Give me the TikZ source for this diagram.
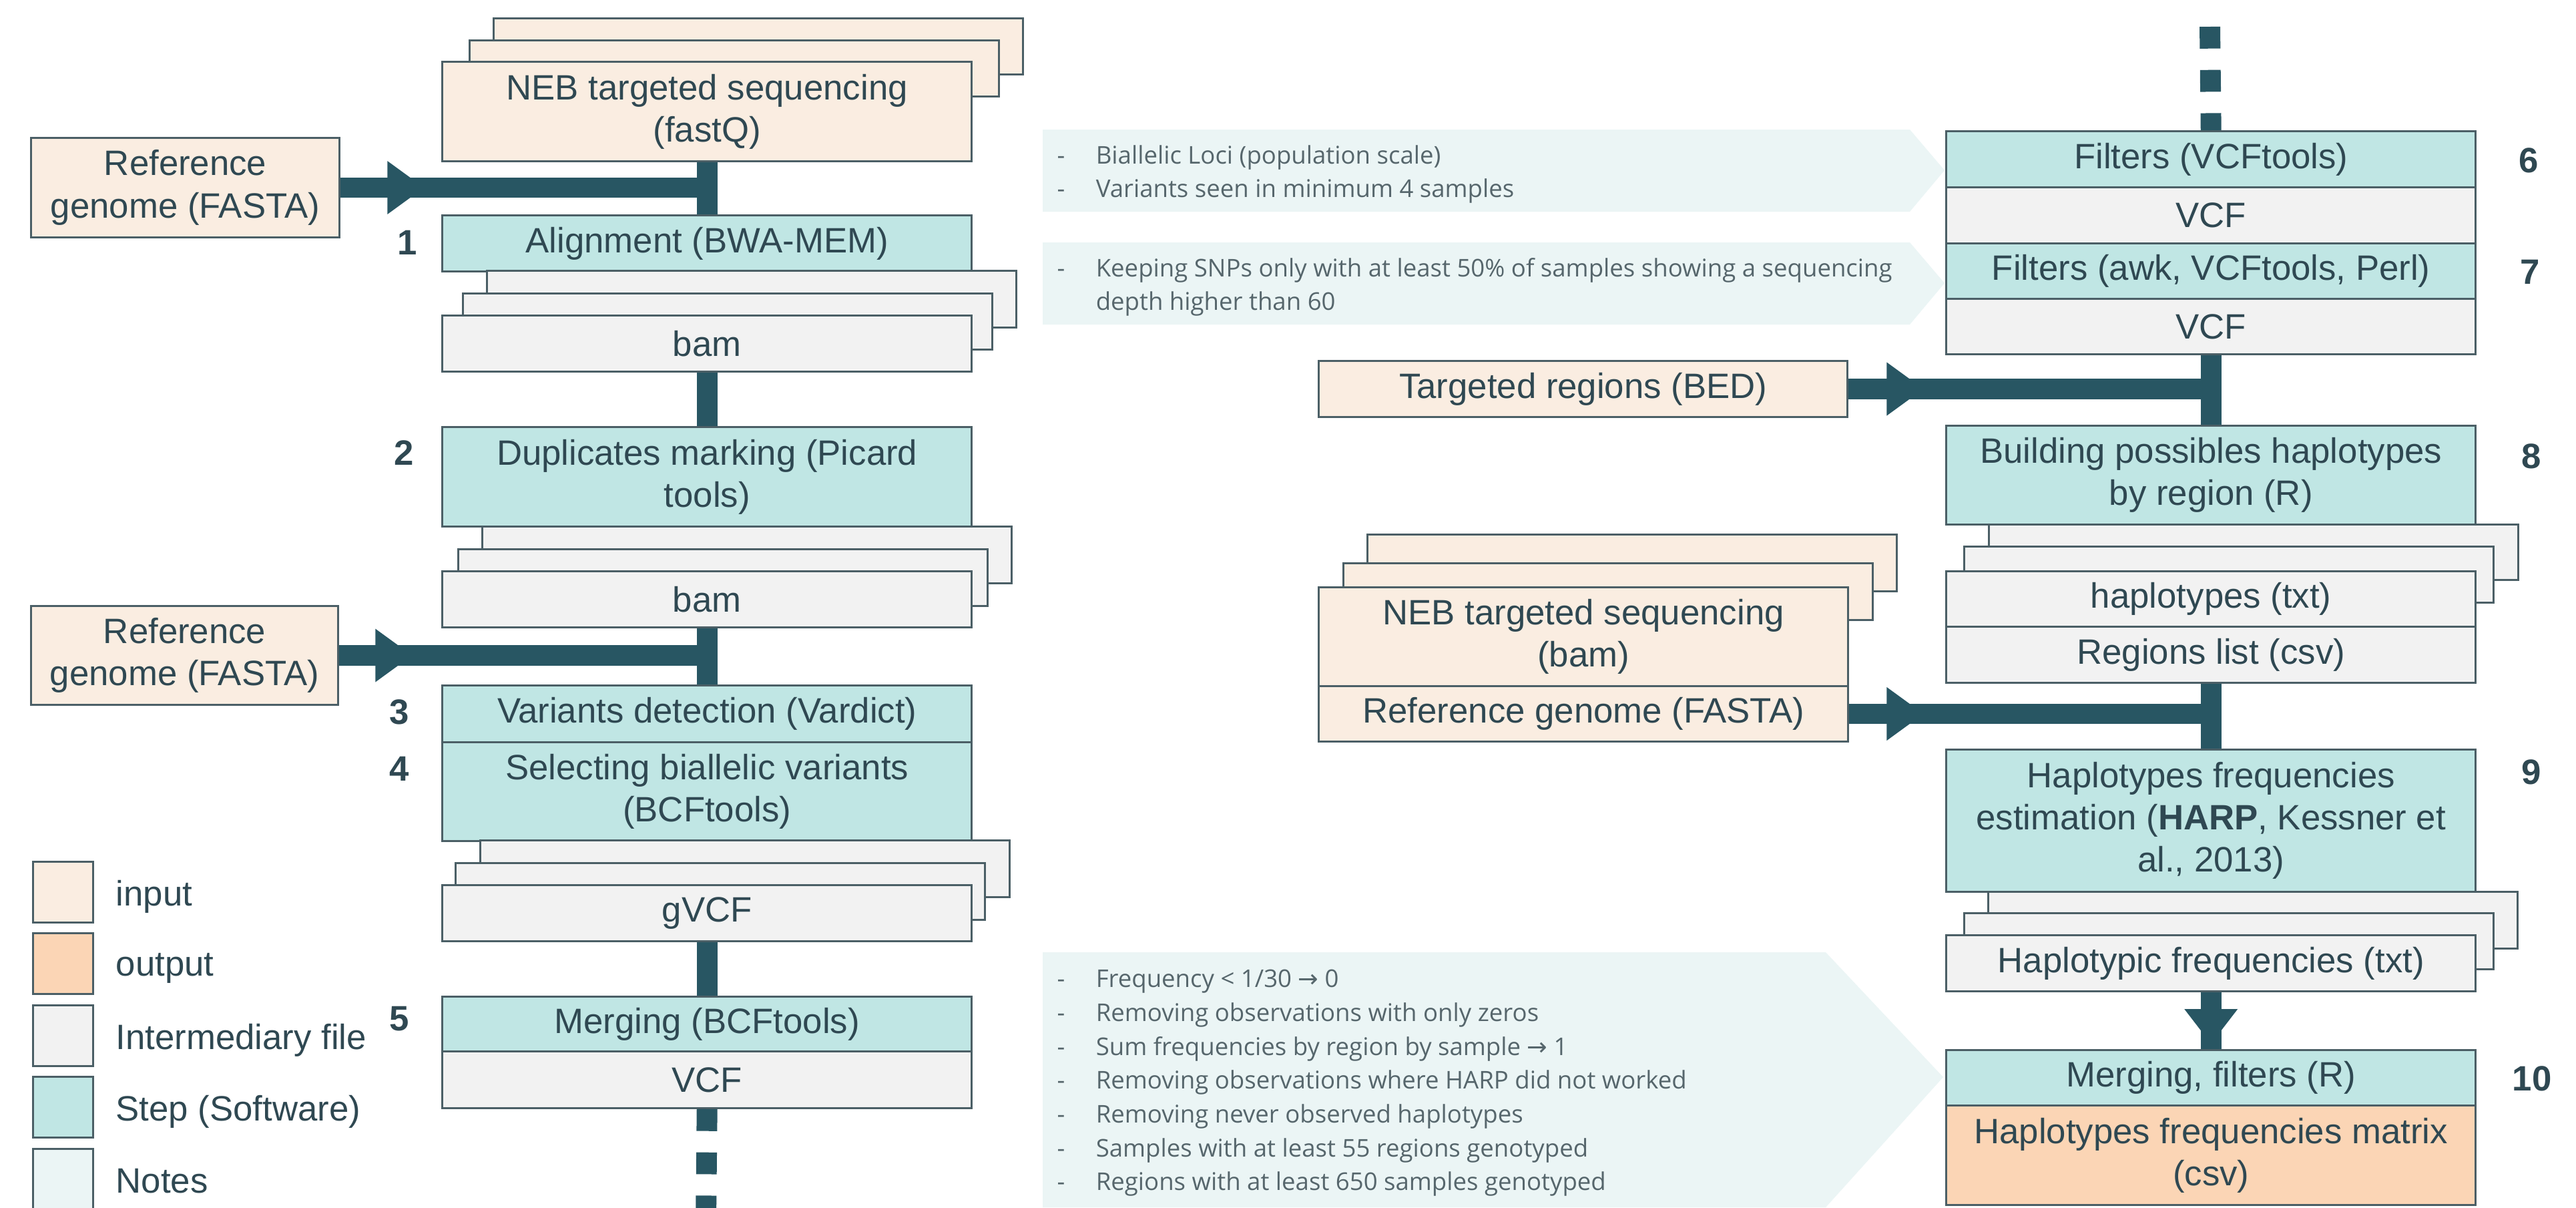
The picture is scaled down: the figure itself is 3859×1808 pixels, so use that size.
\documentclass[tikz,border=0pt]{standalone}
\usepackage{fontspec}
\setmainfont{Liberation Sans}
\newfontfamily\notefont{Open Sans}
\newfontfamily\symfont{DejaVu Sans}
\usetikzlibrary{calc}
\definecolor{inputfill}{HTML}{FAEDE1}
\definecolor{stepfill}{HTML}{C0E6E4}
\definecolor{interfill}{HTML}{F2F2F2}
\definecolor{outfill}{HTML}{FBD5B5}
\definecolor{notefill}{HTML}{EBF5F5}
\definecolor{linecol}{HTML}{285663}
\definecolor{bordercol}{HTML}{4B5F66}
\definecolor{textcol}{HTML}{2F4852}
\definecolor{notetext}{HTML}{56666C}
\begin{document}
\begin{tikzpicture}[x=0.01cm, y=-0.01cm,
  box/.style={draw=bordercol, line width=0.85pt, inner sep=0pt, anchor=north west, align=center,
    text=textcol, font=\fontsize{15}{18}\selectfont, minimum width=7.93cm},
  inbox/.style={box, fill=inputfill},
  stepbox/.style={box, fill=stepfill},
  filebox/.style={box, fill=interfill},
  outbox/.style={box, fill=outfill},
  ht/.style={minimum height=#1*0.01cm},
  conn/.style={draw=linecol, line width=8.8pt},
  dashconn/.style={conn, dash pattern=on 9.3pt off 9.1pt},
  head/.style={fill=linecol},
  num/.style={font=\bfseries\fontsize{15}{18}\selectfont, text=textcol, inner sep=0pt},
  legbox/.style={draw=bordercol, line width=0.85pt, anchor=north west, minimum width=0.9cm, minimum height=0.91cm, inner sep=0pt},
  legendlabel/.style={anchor=west, font=\fontsize{15}{18}\selectfont, text=textcol, inner sep=0pt},
  notetxt/.style={anchor=west, align=left, inner sep=0pt, text=notetext, font=\notefont\fontsize{10.4}{14.4}\selectfont},
]
\fill[white] (0,0) rectangle (3859,1808);
\useasboundingbox (0,0) rectangle (3859,1808);

% ---------- notes ----------
\fill[notefill] (1562,194) -- (2861,194) -- (2913,255) -- (2861,317) -- (1562,317) -- cycle;
\fill[notefill] (1562,363) -- (2861,363) -- (2913,424) -- (2861,486) -- (1562,486) -- cycle;
\fill[notefill] (1562,1426) -- (2735,1426) -- (2911,1613) -- (2735,1808) -- (1562,1808) -- cycle;
\node[notetxt] (note1) at (1583,261) {\makebox[0.58cm][l]{-}Biallelic Loci (population scale)\\\makebox[0.58cm][l]{-}Variants seen in minimum 4 samples};
\node[notetxt] (note2) at (1583,430) {\makebox[0.58cm][l]{-}Keeping SNPs only with at least 50\% of samples showing a sequencing\\\hspace*{0.58cm}depth higher than 60};
\node[notetxt] (note3) at (1583,1622) {\makebox[0.58cm][l]{-}Frequency < 1/30 {\symfont →} 0\\
\makebox[0.58cm][l]{-}Removing observations with only zeros\\
\makebox[0.58cm][l]{-}Sum frequencies by region by sample {\symfont →} 1\\
\makebox[0.58cm][l]{-}Removing observations where HARP did not worked\\
\makebox[0.58cm][l]{-}Removing never observed haplotypes\\
\makebox[0.58cm][l]{-}Samples with at least 55 regions genotyped\\
\makebox[0.58cm][l]{-}Regions with at least 650 samples genotyped};

% ---------- left column ----------
\node[inbox, ht=84] (neb1c) at (738,26) {};
\node[inbox, ht=84] (neb1b) at (702,59) {};
\node[inbox, ht=149] (neb1) at (661,91) {NEB targeted sequencing\\(fastQ)};
\node[inbox, ht=149, minimum width=4.62cm] (ref1) at (45,205) {Reference\\genome (FASTA)};
\node[stepbox, ht=84] (align) at (661,321) {Alignment (BWA-MEM)};
\node[filebox, ht=85] (bam1c) at (728,404) {};
\node[filebox, ht=84] (bam1b) at (692,438) {};
\node[filebox, ht=84] (bam1) at (661,471) {bam};
\node[stepbox, ht=149] (dup) at (661,638) {Duplicates marking (Picard\\tools)};
\node[filebox, ht=85] (bam2c) at (721,787) {};
\node[filebox, ht=85] (bam2b) at (685,821) {};
\node[filebox, ht=84] (bam2) at (661,854) {bam};
\node[inbox, ht=148, minimum width=4.6cm] (ref2) at (45,906) {Reference\\genome (FASTA)};
\node[stepbox, ht=85] (var) at (661,1025) {Variants detection (Vardict)};
\node[stepbox, ht=148] (sel) at (661,1110) {Selecting biallelic variants\\(BCFtools)};
\node[filebox, ht=85] (gvcfc) at (718,1257) {};
\node[filebox, ht=85] (gvcfb) at (681,1291) {};
\node[filebox, ht=84] (gvcf) at (661,1324) {gVCF};
\node[stepbox, ht=82] (merge) at (661,1491) {Merging (BCFtools)};
\node[filebox, ht=85] (vcf) at (661,1573) {VCF};

% ---------- right column ----------
\node[stepbox, ht=84] (filt1) at (2914,195) {Filters (VCFtools)};
\node[filebox, ht=84] (vcfa) at (2914,279) {VCF};
\node[stepbox, ht=83] (filt2) at (2914,363) {Filters (awk, VCFtools, Perl)};
\node[filebox, ht=83] (vcfb) at (2914,446) {VCF};
\node[inbox, ht=84, minimum width=7.92cm] (bed) at (1974,539) {Targeted regions (BED)};
\node[stepbox, ht=148] (build) at (2914,636) {Building possibles haplotypes\\by region (R)};
\node[filebox, ht=83] (haplc) at (2978,784) {};
\node[filebox, ht=84] (haplb) at (2941,817) {};
\node[filebox, ht=83] (hapl) at (2914,854) {haplotypes (txt)};
\node[filebox, ht=84] (reg) at (2914,937) {Regions list (csv)};
\node[inbox, ht=85] (neb2c) at (2047,799) {};
\node[inbox, ht=85] (neb2b) at (2011,842) {};
\node[inbox, ht=148] (neb2) at (1974,878) {NEB targeted sequencing\\(bam)};
\node[inbox, ht=83] (ref3) at (1974,1026) {Reference genome (FASTA)};
\node[stepbox, ht=213] (harp) at (2914,1121) {Haplotypes frequencies\\estimation (\textbf{HARP}, Kessner et\\al., 2013)};
\node[filebox, ht=85] (hfc) at (2977,1334) {};
\node[filebox, ht=84] (hfb) at (2941,1366) {};
\node[filebox, ht=84] (hf) at (2914,1399) {Haplotypic frequencies (txt)};
\node[stepbox, ht=83] (mf) at (2914,1571) {Merging, filters (R)};
\node[outbox, ht=149] (out) at (2914,1654) {Haplotypes frequencies matrix\\(csv)};

% ---------- connectors ----------
\draw[conn] (neb1.south) -- (align.north);
\draw[conn] (ref1.east) -- (ref1.east -| neb1.south);
\fill[head] ($(ref1.east)+(70,-40)$) -- ++(55,40) -- ++(-55,40) -- cycle;
\draw[conn] (bam1.south) -- (dup.north);
\draw[conn] (bam2.south) -- (var.north);
\draw[conn] (ref2.east) -- (ref2.east -| bam2.south);
\fill[head] ($(ref2.east)+(54,-40)$) -- ++(55,40) -- ++(-55,40) -- cycle;
\draw[conn] (gvcf.south) -- (merge.north);
\coordinate (botend) at (1057.5,1830);
\draw[dashconn] (vcf.south) -- (botend);

\coordinate (topend) at (3310.5,40);
\draw[dashconn] (topend) -- (filt1.north);
\draw[conn] (vcfb.south) -- (build.north);
\draw[conn] (bed.east) -- (bed.east -| vcfb.south);
\fill[head] ($(bed.east)+(57,-40)$) -- ++(55,40) -- ++(-55,40) -- cycle;
\draw[conn] (reg.south) -- (harp.north);
\draw[conn] (ref3.east) -- (ref3.east -| reg.south);
\fill[head] ($(ref3.east)+(56,-40)$) -- ++(55,40) -- ++(-55,40) -- cycle;
\draw[conn] (hf.south) -- (mf.north);
\fill[head] ($(hf.south)+(-40,25)$) -- ++(40,52) -- ++(40,-52) -- cycle;

% ---------- step numbers ----------
\node[num] (num1) at (610,363) {1};
\node[num] (num2) at (605,678) {2};
\node[num] (num3) at (598,1066) {3};
\node[num] (num4) at (598,1151) {4};
\node[num] (num5) at (598,1526) {5};
\node[num] (num6) at (3788,240) {6};
\node[num] (num7) at (3790,407) {7};
\node[num] (num8) at (3792,683) {8};
\node[num] (num9) at (3792,1156) {9};
\node[num] (num10) at (3793,1615) {10};

% ---------- legend ----------
\node[legbox, fill=inputfill] (legin) at (48,1289) {};
\node[legendlabel] (leginl) at (173,1343) {input};
\node[legbox, fill=outfill] (legout) at (48,1396) {};
\node[legendlabel] (legoutl) at (173,1450) {output};
\node[legbox, fill=interfill] (legint) at (48,1504) {};
\node[legendlabel] (legintl) at (173,1558) {Intermediary file};
\node[legbox, fill=stepfill] (legstep) at (48,1611) {};
\node[legendlabel] (legstepl) at (173,1665) {Step (Software)};
\node[legbox, fill=notefill] (legnote) at (48,1719) {};
\node[legendlabel] (legnotel) at (173,1769) {Notes};
\end{tikzpicture}
\end{document}
